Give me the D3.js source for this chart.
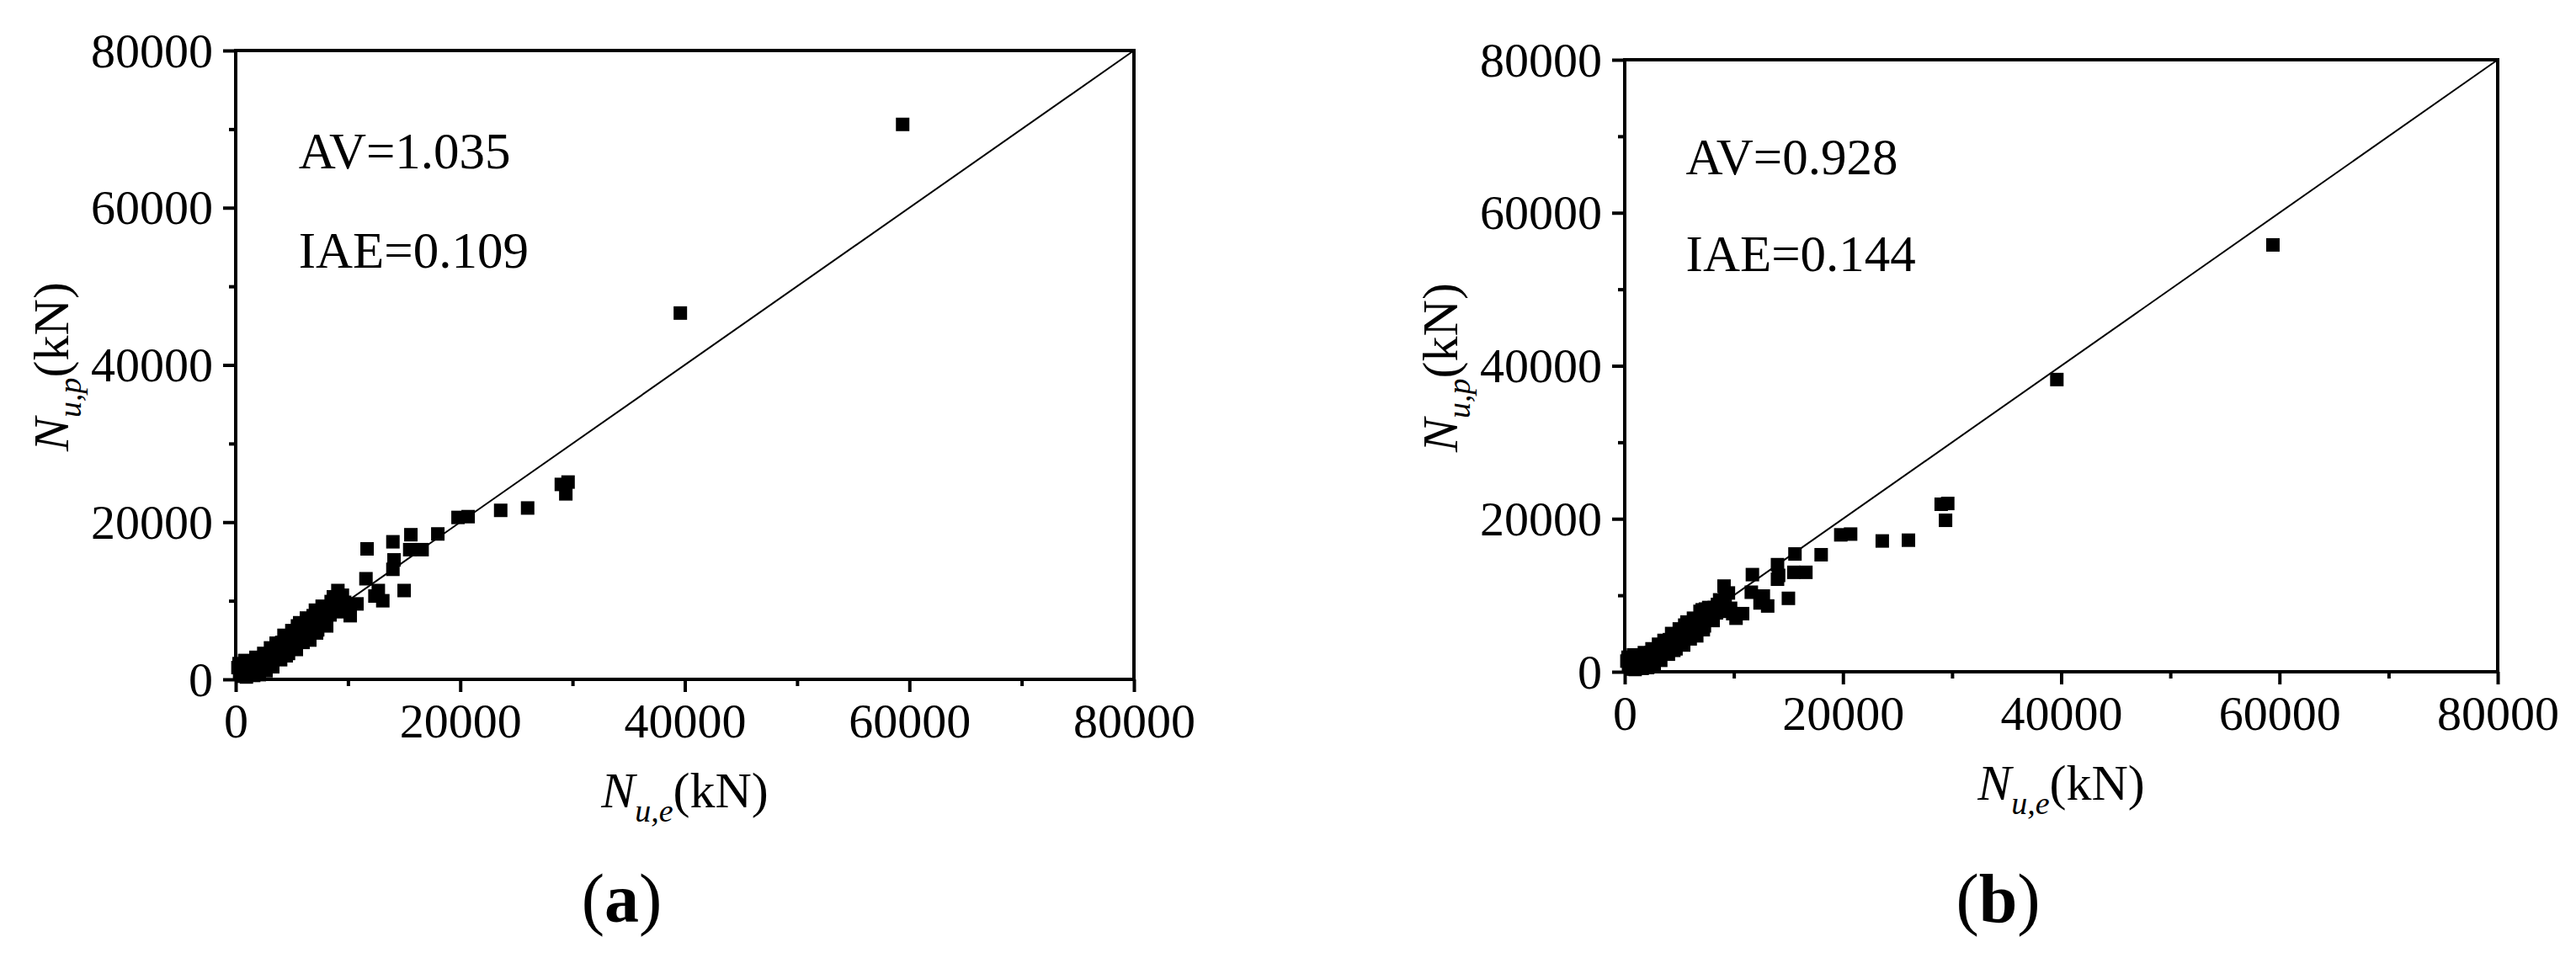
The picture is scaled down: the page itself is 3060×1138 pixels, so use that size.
<!DOCTYPE html>
<html lang="en">
<head>
<meta charset="UTF-8">
<title>Nu,p vs Nu,e</title>
<script src="https://d3js.org/d3.v7.min.js"></script>
<style>
body { margin: 0; background: #fff; }
svg { display: block; }
</style>
</head>
<body>
<script>

// experimental capacity of each specimen (kN), shared by both panels
var nuExp = [59400, 39600, 29000, 29600, 29400, 26000, 23600, 19800, 20700, 18000,
             15600, 14000, 11700, 15500, 16600, 14100, 14000, 11600, 12700, 13100,
             15000, 10800, 10200, 9100, 9500, 12400,
             200, 350, 500, 600, 700, 850, 1000, 1100, 1300, 1400,
             1600, 1700, 1900, 2000, 2200, 2400, 2600, 2800, 3000, 3200,
             3400, 3500, 3700, 3900, 4100, 4200, 4400, 4600, 4700, 4900,
             5100, 5300, 5500, 5600, 5800, 6000, 6200, 6400, 6500, 6700,
             6900, 7000, 7200, 7400, 7600, 7800, 8000, 8200, 8400, 8600,
             8800, 9000, 9300, 9700,
             300, 450, 800, 950, 1200, 1500, 1800, 2100, 2500, 2700,
             3100, 3300, 3600, 4000, 4300, 4500, 5000, 5400, 5700, 6100,
             6300, 6600, 7100, 7300, 7700, 8100, 8500, 8700, 9200, 9900];

// predicted capacity, panel (a)
var nuPredA = [70600, 46600, 24800, 25100, 23600, 21800, 21500, 20600, 20700, 18500,
               18400, 17500, 16600, 16500, 16500, 15200, 14000, 12800, 11300, 10000,
               11300, 9600, 8100, 11300, 10700, 10600,
               1500, 900, 1900, 400, 1300, 1800, 700, 1600, 1000, 2000,
               500, 1500, 2300, 1100, 1800, 2700, 1600, 2300, 3200, 2000,
               3600, 2700, 4100, 3100, 4700, 3500, 4000, 5200, 3300, 4600,
               5800, 4300, 6800, 5000, 5800, 4700, 6500, 5600, 7500, 6200,
               8100, 7000, 5900, 8300, 7400, 8700, 7700, 9000, 8200, 9400,
               8700, 9800, 8600, 9800,
               2000, 1200, 2400, 300, 2300, 1200, 2800, 600, 3300, 1100,
               4000, 1600, 4600, 2500, 5600, 3000, 6200, 3800, 7200, 5200,
               7800, 5000, 8800, 6300, 9300, 6800, 9900, 10500, 10400, 8800];

// predicted capacity, panel (b)
var nuPredB = [55800, 38200, 21900, 22000, 19800, 17200, 17100, 17900, 18000, 15300,
               15400, 14000, 12700, 13000, 13000, 12600, 12100, 10400, 9900, 8600,
               9600, 7600, 7000, 11200, 10300, 9000,
               1400, 800, 1700, 350, 1200, 1700, 650, 1500, 900, 1800,
               450, 1300, 2100, 1000, 1600, 2500, 1400, 2100, 2900, 1800,
               3200, 2500, 3700, 2800, 4200, 3200, 3700, 4700, 3000, 4200,
               5300, 3900, 6100, 4600, 5300, 4300, 5900, 5100, 6800, 5700,
               7900, 7300, 5500, 8200, 7600, 8300, 7800, 8400, 7700, 8500,
               8000, 8600, 7900, 8300,
               1900, 1100, 2200, 300, 2100, 1100, 2500, 550, 3000, 1000,
               3600, 1500, 4100, 2300, 5000, 2800, 5600, 3500, 6500, 4800,
               7000, 4700, 8100, 6000, 8400, 6700, 8800, 9400, 9700, 7600];

var majorTicks = [0, 20000, 40000, 60000, 80000];
var minorTicks = [10000, 30000, 50000, 70000];
var avLabels = ["AV=1.035", "AV=0.928"];
var iaeLabels = ["IAE=0.109", "IAE=0.144"];
var captions = ["a", "b"];

var W = 3060, H = 1138;
var FONT = "\"Liberation Serif\", \"Times New Roman\", serif";

var svg = d3.select("body").append("svg")
    .attr("width", W)
    .attr("height", H)
    .attr("viewBox", "0 0 " + W + " " + H);

svg.append("rect").attr("width", W).attr("height", H).attr("fill", "#fff");

// plot boxes of the two panels
var panels = [
    {left: 280, right: 1347, top: 60, bottom: 807, pred: nuPredA},
    {left: 1930, right: 2967, top: 71, bottom: 798, pred: nuPredB}
];

panels.forEach(function(p, i) {

    var x = d3.scaleLinear().domain([0, 80000]).range([p.left, p.right]);
    var y = d3.scaleLinear().domain([0, 80000]).range([p.bottom, p.top]);

    var g = svg.append("g");

    // major ticks + labels
    var xAxis = g.append("g")
        .attr("transform", "translate(0," + p.bottom + ")")
        .call(d3.axisBottom(x).tickValues(majorTicks).tickSize(15).tickSizeOuter(0)
            .tickPadding(13).tickFormat(d3.format("d")));
    var yAxis = g.append("g")
        .attr("transform", "translate(" + p.left + ",0)")
        .call(d3.axisLeft(y).tickValues(majorTicks).tickSize(15).tickSizeOuter(0)
            .tickPadding(12).tickFormat(d3.format("d")));

    // minor ticks
    var xMinor = g.append("g")
        .attr("transform", "translate(0," + p.bottom + ")")
        .call(d3.axisBottom(x).tickValues(minorTicks).tickSize(8).tickSizeOuter(0).tickFormat(""));
    var yMinor = g.append("g")
        .attr("transform", "translate(" + p.left + ",0)")
        .call(d3.axisLeft(y).tickValues(minorTicks).tickSize(8).tickSizeOuter(0).tickFormat(""));

    [xAxis, yAxis, xMinor, yMinor].forEach(function(a) {
        a.select(".domain").remove();
        a.selectAll(".tick line").attr("stroke", "#000").attr("stroke-width", 4);
        a.selectAll(".tick text")
            .attr("fill", "#000")
            .style("font-family", FONT)
            .style("font-size", "58px");
    });
    yAxis.selectAll(".tick text").attr("dy", "0.33em");

    // frame
    g.append("rect")
        .attr("x", p.left)
        .attr("y", p.top)
        .attr("width", p.right - p.left)
        .attr("height", p.bottom - p.top)
        .attr("fill", "none")
        .attr("stroke", "#000")
        .attr("stroke-width", 4)
        .attr("stroke-linecap", "square");

    // 1:1 line
    var line = d3.line().x(function(d) { return x(d); }).y(function(d) { return y(d); });
    g.append("path")
        .datum([0, 80000])
        .attr("d", line)
        .attr("fill", "none")
        .attr("stroke", "#000")
        .attr("stroke-width", 2);

    // points
    var pts = nuExp.map(function(v, k) { return [v, p.pred[k]]; });
    g.selectAll(".pt")
        .data(pts)
        .enter().append("rect")
        .attr("class", "pt")
        .attr("x", function(d) { return x(d[0]) - 8; })
        .attr("y", function(d) { return y(d[1]) - 8; })
        .attr("width", 16)
        .attr("height", 16)
        .attr("fill", "#000");

    // AV / IAE text
    g.append("text")
        .attr("x", x(5600)).attr("y", y(65000))
        .style("font-family", FONT).style("font-size", "61px")
        .text(avLabels[i]);
    g.append("text")
        .attr("x", x(5600)).attr("y", y(52400))
        .style("font-family", FONT).style("font-size", "61px")
        .text(iaeLabels[i]);

    var cx = (p.left + p.right) / 2;
    var cy = (p.top + p.bottom) / 2;

    // x axis title
    var xt = g.append("text")
        .attr("x", cx).attr("y", p.bottom + 152)
        .attr("text-anchor", "middle")
        .style("font-family", FONT).style("font-size", "60px");
    xt.append("tspan").style("font-style", "italic").text("N");
    xt.append("tspan").style("font-style", "italic").style("font-size", "38px").attr("dy", 17).text("u,e");
    xt.append("tspan").attr("dy", -17).text("(kN)");

    // y axis title
    var yt = g.append("text")
        .attr("transform", "translate(" + (p.left - 199) + "," + (cy + 2) + ") rotate(-90)")
        .attr("text-anchor", "middle")
        .style("font-family", FONT).style("font-size", "60px");
    yt.append("tspan").style("font-style", "italic").text("N");
    yt.append("tspan").style("font-style", "italic").style("font-size", "38px").attr("dy", 15).text("u,p");
    yt.append("tspan").attr("dy", -15).text("(kN)");

    // caption
    var cap = g.append("text")
        .attr("x", cx - 75).attr("y", 1095)
        .attr("text-anchor", "middle")
        .style("font-family", FONT).style("font-size", "82px");
    cap.append("tspan").text("(");
    cap.append("tspan").style("font-weight", "bold").text(captions[i]);
    cap.append("tspan").text(")");
});

</script>
</body>
</html>
